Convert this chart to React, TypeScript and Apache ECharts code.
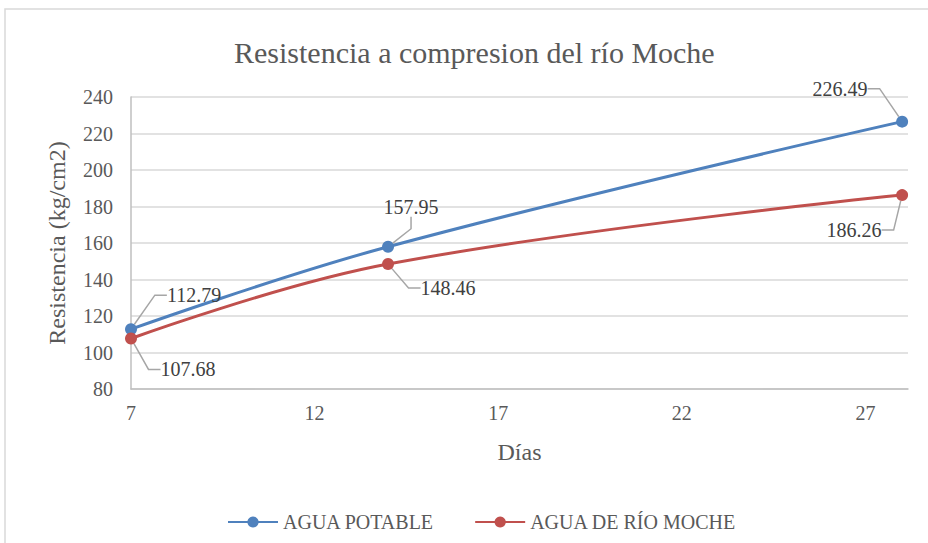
import React, { useEffect, useRef } from "react";
import * as echarts from "echarts";

const DAYS = [7, 14, 28];
const AGUA_POTABLE = [112.79, 157.95, 226.49];
const AGUA_RIO = [107.68, 148.46, 186.26];
const X_TICKS = [7, 12, 17, 22, 27];
const SERIES_NAMES = ["AGUA POTABLE", "AGUA DE RÍO MOCHE"];
const TITLE = "Resistencia a compresion del río Moche";
const X_NAME = "Días";
const Y_NAME = "Resistencia (kg/cm2)";

// label offsets (layout only): [dx, dy] from each point
const LABEL_OFFSETS = [
  [[63, -34], [23, -40], [-62, -33]],
  [[57, 31], [60, 24], [-48, 35]],
];

const FONT = "Liberation Serif";
const COLORS = ["#4F81BD", "#C0504D"];

export default function App() {
  const ref = useRef<HTMLDivElement>(null);
  useEffect(() => {
    if (!ref.current) return;
    const chart = echarts.init(ref.current, null, { renderer: "svg" });
    const mk = (name: string, vals: number[], si: number) => ({
      name,
      type: "line",
      data: DAYS.map((d, i) => [d, vals[i]]),
      smooth: 0.4,
      symbol: "circle",
      symbolSize: 12,
      lineStyle: { width: 3, color: COLORS[si] },
      itemStyle: { color: COLORS[si] },
      label: {
        show: true,
        position: "inside",
        formatter: (p: any) => p.value[1].toFixed(2),
        fontFamily: FONT,
        fontSize: 20,
        color: "#404040",
      },
      labelLine: {
        show: true,
        length2: 12,
        smooth: false,
        lineStyle: { color: "#a6a6a6", width: 1.5 },
      },
      labelLayout: (params: any) => {
        const o = LABEL_OFFSETS[si][params.dataIndex];
        return { dx: o[0], dy: o[1] };
      },
      emphasis: { disabled: true },
    });
    chart.setOption({
      animation: false,
      backgroundColor: "#ffffff",
      title: {
        text: TITLE,
        left: 229,
        top: 32,
        textStyle: { fontFamily: FONT, fontSize: 30, fontWeight: "normal", color: "#595959" },
      },
      graphic: [
        {
          type: "rect",
          shape: { x: 5, y: 9, width: 940, height: 545 },
          style: { fill: "none", stroke: "#d9d9d9", lineWidth: 1.5 },
          silent: true,
          z: -1,
        },
      ],
      grid: { left: 131, right: 20, top: 97, bottom: 154 },
      legend: {
        left: 222,
        top: 507,
        itemWidth: 50,
        itemHeight: 14,
        itemGap: 40,
        textStyle: { fontFamily: FONT, fontSize: 20, color: "#595959" },
        data: SERIES_NAMES,
      },
      xAxis: {
        type: "value",
        min: 7,
        max: 28.16,
        name: X_NAME,
        nameLocation: "middle",
        nameGap: 51,
        nameTextStyle: { fontFamily: FONT, fontSize: 24, color: "#595959" },
        axisLine: { show: true, lineStyle: { color: "#bfbfbf", width: 1.5 } },
        axisTick: { show: false },
        splitLine: { show: false },
        axisLabel: {
          customValues: X_TICKS,
          margin: 14,
          fontFamily: FONT,
          fontSize: 20,
          color: "#595959",
        },
      },
      yAxis: {
        type: "value",
        min: 80,
        max: 240,
        interval: 20,
        name: Y_NAME,
        nameLocation: "middle",
        nameGap: 62,
        nameTextStyle: { fontFamily: FONT, fontSize: 24, color: "#595959" },
        axisLine: { show: true, lineStyle: { color: "#bfbfbf", width: 1.5 } },
        axisTick: { show: false },
        splitLine: { show: true, lineStyle: { color: "#d9d9d9", width: 1.5 } },
        axisLabel: { margin: 18, fontFamily: FONT, fontSize: 20, color: "#595959" },
      },
      series: [mk(SERIES_NAMES[0], AGUA_POTABLE, 0), mk(SERIES_NAMES[1], AGUA_RIO, 1)],
    });
    return () => chart.dispose();
  }, []);
  return (
    <div
      ref={ref}
      style={{ position: "fixed", left: 0, top: 0, width: 928, height: 543 }}
    />
  );
}
